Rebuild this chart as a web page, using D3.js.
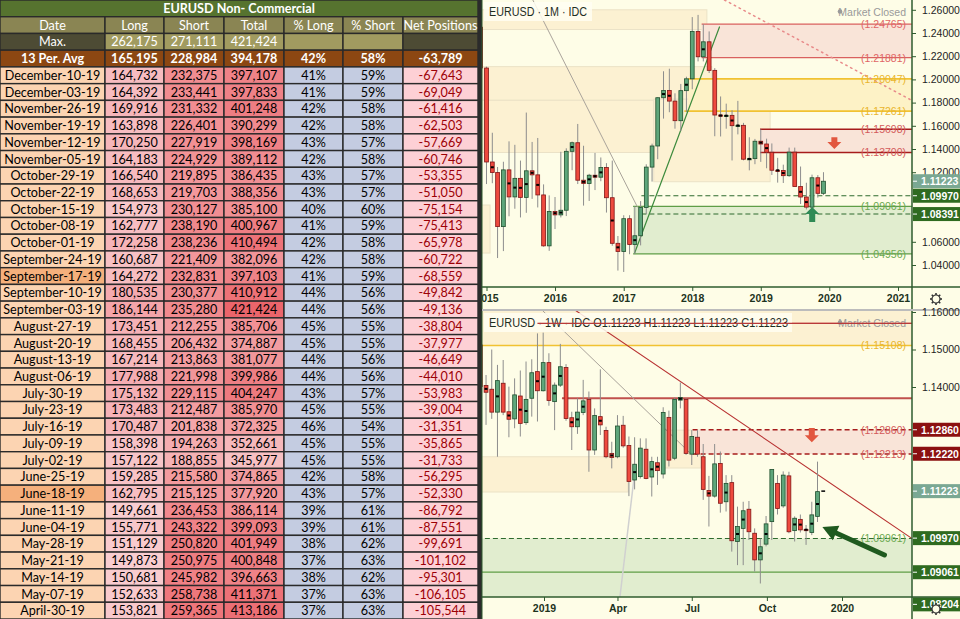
<!DOCTYPE html>
<html>
<head>
<meta charset="utf-8">
<script src="https://cdnjs.cloudflare.com/ajax/libs/d3/7.8.5/d3.min.js"></script>
<style>
body { margin: 0; background: #fff; }
svg { display: block; }
.tbl text { font-family: Lato, "Open Sans", sans-serif; font-size: 12.6px; }
.chart text { font-family: "Liberation Sans", Arial, sans-serif; }
</style>
</head>
<body>
<svg width="960" height="619"></svg>
<script>
// ---------------- table data ----------------
var tTitle = 'EURUSD Non- Commercial';
var tHeaders = ['Date', 'Long', 'Short', 'Total', '% Long', '% Short', 'Net Positions'];
var tMax = ['Max.', 262175, 271111, 421424];
var tAvg = ['13 Per. Avg', 165195, 228984, 394178, 42, 58, -63789];
var tDates = ['December-10-19', 'December-03-19', 'November-26-19', 'November-19-19', 'November-12-19',
  'November-05-19', 'October-29-19', 'October-22-19', 'October-15-19', 'October-08-19', 'October-01-19',
  'September-24-19', 'September-17-19', 'September-10-19', 'September-03-19', 'August-27-19',
  'August-20-19', 'August-13-19', 'August-06-19', 'July-30-19', 'July-23-19', 'July-16-19', 'July-09-19',
  'July-02-19', 'June-25-19', 'June-18-19', 'June-11-19', 'June-04-19', 'May-28-19', 'May-21-19',
  'May-14-19', 'May-07-19', 'April-30-19'];
var tLong = [164732, 164392, 169916, 163898, 170250, 164183, 166540, 168653, 154973, 162777, 172258,
  160687, 164272, 180535, 186144, 173451, 168455, 167214, 177988, 175132, 173483, 170487, 158398,
  157122, 159285, 162795, 149661, 155771, 151129, 149873, 150681, 152633, 153821];
var tShort = [232375, 233441, 231332, 226401, 227919, 224929, 219895, 219703, 230127, 238190, 238236,
  221409, 232831, 230377, 235280, 212255, 206432, 213863, 221998, 229115, 212487, 201838, 194263,
  188855, 215580, 215125, 236453, 243322, 250820, 250975, 245982, 258738, 259365];
var tTotal = [397107, 397833, 401248, 390299, 398169, 389112, 386435, 388356, 385100, 400967, 410494,
  382096, 397103, 410912, 421424, 385706, 374887, 381077, 399986, 404247, 385970, 372325, 352661,
  345977, 374865, 377920, 386114, 399093, 401949, 400848, 396663, 411371, 413186];
var tPctLong = [41, 41, 42, 42, 43, 42, 43, 43, 40, 41, 42, 42, 41, 44, 44, 45, 45, 44, 44, 43, 45, 46,
  45, 45, 42, 43, 39, 39, 38, 37, 38, 37, 37];
var tPctShort = [59, 59, 58, 58, 57, 58, 57, 57, 60, 59, 58, 58, 59, 56, 56, 55, 55, 56, 56, 57, 55, 54,
  55, 55, 58, 57, 61, 61, 62, 63, 62, 63, 63];
var tNet = [-67643, -69049, -61416, -62503, -57669, -60746, -53355, -51050, -75154, -75413, -65978,
  -60722, -68559, -49842, -49136, -38804, -37977, -46649, -44010, -53983, -39004, -31351, -35865,
  -31733, -56295, -52330, -86792, -87551, -99691, -101102, -95301, -106105, -105544];
var tMarked = ['September-17-19', 'June-18-19'];

// ---------------- monthly candles (Dec 2014 - Dec 2019) ----------------
var mOpen = [1.2450, 1.2098, 1.1288, 1.1197, 1.0731, 1.1220, 1.0987, 1.1147, 1.0983, 1.1212, 1.1177, 1.1004,
  1.0565, 1.0862, 1.0832, 1.0872, 1.1380, 1.1454, 1.1131, 1.1103, 1.1174, 1.1157, 1.1240, 1.0980,
  1.0587, 1.0517, 1.0799, 1.0576, 1.0652, 1.0895, 1.1244, 1.1426, 1.1842, 1.1905, 1.1813, 1.1644,
  1.1903, 1.2005, 1.2414, 1.2195, 1.2324, 1.2078, 1.1693, 1.1684, 1.1690, 1.1601, 1.1604, 1.1312,
  1.1317, 1.1467, 1.1443, 1.1372, 1.1217, 1.1215, 1.1170, 1.1373, 1.1076, 1.0986, 1.0899, 1.1152, 1.1018];
var mHigh = [1.2570, 1.2110, 1.1540, 1.1245, 1.1290, 1.1466, 1.1436, 1.1300, 1.1714, 1.1461, 1.1495, 1.1095,
  1.1000, 1.0986, 1.1376, 1.1406, 1.1464, 1.1616, 1.1428, 1.1186, 1.1366, 1.1327, 1.1278, 1.1300,
  1.0650, 1.0829, 1.0829, 1.0906, 1.0951, 1.1268, 1.1446, 1.1846, 1.2070, 1.2092, 1.1880, 1.1961,
  1.2023, 1.2537, 1.2556, 1.2476, 1.2414, 1.2097, 1.1853, 1.1791, 1.1734, 1.1815, 1.1625, 1.1501,
  1.1487, 1.1570, 1.1489, 1.1448, 1.1324, 1.1265, 1.1412, 1.1412, 1.1249, 1.1109, 1.1179, 1.1175, 1.1200];
var mLow = [1.2165, 1.1098, 1.1105, 1.0460, 1.0520, 1.0820, 1.0885, 1.0810, 1.0850, 1.0970, 1.0896, 1.0558,
  1.0522, 1.0710, 1.0810, 1.0822, 1.1217, 1.1098, 1.0912, 1.0952, 1.1046, 1.1122, 1.0852, 1.0566,
  1.0352, 1.0340, 1.0493, 1.0494, 1.0569, 1.0839, 1.1119, 1.1312, 1.1662, 1.1717, 1.1575, 1.1554,
  1.1718, 1.1915, 1.2155, 1.2155, 1.2055, 1.1510, 1.1508, 1.1575, 1.1301, 1.1526, 1.1302, 1.1216,
  1.1269, 1.1289, 1.1234, 1.1176, 1.1110, 1.1107, 1.1160, 1.1101, 1.0926, 1.0879, 1.0879, 1.0981, 1.1003];
var mClose = [1.2098, 1.1288, 1.1197, 1.0731, 1.1220, 1.0987, 1.1147, 1.0983, 1.1212, 1.1177, 1.1004, 1.0565,
  1.0862, 1.0832, 1.0872, 1.1380, 1.1454, 1.1131, 1.1103, 1.1174, 1.1157, 1.1240, 1.0980, 1.0587,
  1.0517, 1.0799, 1.0576, 1.0652, 1.0895, 1.1244, 1.1426, 1.1842, 1.1905, 1.1813, 1.1644, 1.1903,
  1.2005, 1.2414, 1.2195, 1.2324, 1.2078, 1.1693, 1.1684, 1.1690, 1.1601, 1.1604, 1.1312, 1.1317,
  1.1467, 1.1443, 1.1372, 1.1217, 1.1215, 1.1170, 1.1373, 1.1076, 1.0986, 1.0899, 1.1152, 1.1018, 1.1122];
var mDot = [0, 0, 1, 0, 0, 1, 1, 1, 1, 1, 1, 0, 0, 1, 1, 0, 1, 0, 1, 1, 1, 1, 0, 1, 1, 0, 0, 1, 0, 0, 0, 0,
  1, 1, 0, 0, 1, 0, 0, 1, 0, 0, 1, 1, 1, 1, 0, 1, 0, 1, 1, 0, 1, 1, 0, 0, 1, 1, 0, 1, 0];

// ---------------- weekly candles (from week of 2018-10-15) ----------------
var wOpen = [1.1512, 1.1404, 1.1394, 1.1333, 1.1410, 1.1334, 1.1315, 1.1376, 1.1305, 1.1370, 1.1441,
  1.1390, 1.1465, 1.1361, 1.1405, 1.1452, 1.1318, 1.1294, 1.1332, 1.1367, 1.1232, 1.1321, 1.1284,
  1.1223, 1.1214, 1.1298, 1.1244, 1.1152, 1.1161, 1.1234, 1.1160, 1.1198, 1.1168, 1.1319, 1.1210,
  1.1365, 1.1367, 1.1221, 1.1266, 1.1214, 1.1124, 1.1109, 1.1196, 1.1094, 1.1145, 1.0988, 1.1023,
  1.1074, 1.1010, 1.0939, 1.0981, 1.1041, 1.1143, 1.1083, 1.1163, 1.1017, 1.1047, 1.1020, 1.1012,
  1.1055, 1.11223];
var wHigh = [1.1546, 1.1432, 1.1500, 1.1459, 1.1472, 1.1401, 1.1423, 1.1444, 1.1468, 1.1474, 1.1543,
  1.1545, 1.1490, 1.1412, 1.1515, 1.1461, 1.1334, 1.1370, 1.1419, 1.1388, 1.1343, 1.1447, 1.1294,
  1.1254, 1.1325, 1.1323, 1.1268, 1.1266, 1.1263, 1.1263, 1.1214, 1.1214, 1.1346, 1.1337, 1.1372,
  1.1412, 1.1370, 1.1285, 1.1285, 1.1248, 1.1163, 1.1248, 1.1228, 1.1165, 1.1165, 1.1081, 1.1094,
  1.1096, 1.1023, 1.0996, 1.1056, 1.1180, 1.1165, 1.1175, 1.1174, 1.1055, 1.1060, 1.1032, 1.1094,
  1.1201, 1.11223];
var wLow = [1.1380, 1.1299, 1.1315, 1.1214, 1.1325, 1.1266, 1.1290, 1.1268, 1.1299, 1.1321, 1.1308,
  1.1388, 1.1350, 1.1285, 1.1400, 1.1310, 1.1232, 1.1275, 1.1325, 1.1174, 1.1219, 1.1272, 1.1210,
  1.1183, 1.1210, 1.1238, 1.1109, 1.1127, 1.1156, 1.1154, 1.1108, 1.1139, 1.1156, 1.1188, 1.1205,
  1.1343, 1.1219, 1.1192, 1.1214, 1.1099, 1.1028, 1.1105, 1.1065, 1.1068, 1.0961, 1.0925, 1.0925,
  1.0992, 1.0908, 1.0876, 1.0975, 1.0992, 1.1060, 1.1078, 1.1010, 1.0988, 1.1012, 1.0979, 1.1005,
  1.1040, 1.11223];
var wClose = [1.1401, 1.1386, 1.1333, 1.1417, 1.1333, 1.1314, 1.1379, 1.1303, 1.1367, 1.1438, 1.1390,
  1.1465, 1.1364, 1.1405, 1.1454, 1.1316, 1.1294, 1.1333, 1.1363, 1.1232, 1.1324, 1.1299, 1.1214,
  1.1212, 1.1296, 1.1243, 1.1148, 1.1194, 1.1237, 1.1156, 1.1201, 1.1177, 1.1332, 1.1205, 1.1367,
  1.1372, 1.1223, 1.1268, 1.1221, 1.1127, 1.1109, 1.1195, 1.1090, 1.1143, 1.0990, 1.1028, 1.1070,
  1.1014, 1.0939, 1.0974, 1.1035, 1.1180, 1.1076, 1.1165, 1.1014, 1.1050, 1.1019, 1.1019, 1.1059,
  1.1121, 1.11223];
var wDot = [0, 1, 0, 1, 0, 1, 0, 1, 1, 0, 1, 1, 0, 1, 1, 0, 1, 1, 1, 0, 0, 1, 0, 1, 0, 0, 0, 1, 0, 0,
  1, 1, 0, 0, 0, 1, 0, 0, 0, 0, 1, 0, 0, 1, 0, 1, 1, 0, 0, 1, 1, 0, 0, 0, 0, 1, 1, 1, 1, 1, 0];

// ---------------- drawings on the charts ----------------
// [price, start date, kind, labelled]
var mLines = [[1.24765, '2018-02-20', 'red', 1], [1.21881, '2018-02-20', 'red', 1],
  [1.20047, '2017-12-10', 'gold', 1], [1.17261, '2017-11-20', 'gold', 1],
  [1.15698, '2018-12-28', 'dred', 1], [1.13700, '2018-12-28', 'dred', 1],
  [1.09970, '2017-04-05', 'gdash', 0], [1.08391, '2017-04-05', 'gdash', 0],
  [1.09061, '2017-02-20', 'green', 1], [1.04956, '2017-02-20', 'green', 1]];
// [start, end, top price, bottom price, kind]
var mBands = [['2014-11-01', '2018-03-20', 1.2600, 1.2430, 'beige'],
  ['2014-11-01', '2018-04-15', 1.2110, 1.1820, 'beige'],
  ['2014-11-01', '2017-06-10', 1.1820, 1.1370, 'beige'],
  ['2017-06-10', '2019-02-20', 1.1830, 1.1118, 'beige'],
  ['2014-11-01', '2015-01-20', 1.0917, 1.0503, 'beige'],
  ['2018-02-20', '2021-06-01', 1.24765, 1.21881, 'pink'],
  ['2017-12-10', '2021-06-01', 1.20047, 1.17261, 'yellow'],
  ['2018-12-28', '2021-06-01', 1.15698, 1.13700, 'pink'],
  ['2017-02-20', '2021-06-01', 1.09061, 1.04956, 'green']];
// [date1, price1, date2, price2, kind]
var mTrend = [['2015-09-05', 1.2684, '2017-03-15', 1.0900, 'gray'],
  ['2017-02-28', 1.0503, '2018-05-26', 1.2452, 'green'],
  ['2018-06-22', 1.2684, '2021-03-12', 1.1822, 'pinkdot']];
// [date, base price, tip price, kind]
var mArrows = [['2020-01-28', 1.1502, 1.1401, 'red'], ['2019-10-02', 1.0771, 1.0900, 'green']];
var mTags = [[1.11223, 'last'], [1.09970, 'green'], [1.08391, 'green']];
var mYears = ['2015', '2016', '2017', '2018', '2019', '2020', '2021'];

var wLines = [[1.15698, '2018-12-24', 'red', 0], [1.15108, '2018-10-01', 'gold', 1],
  [1.13700, '2019-01-23', 'dred2', 0], [1.12860, '2019-07-02', 'rdash', 1],
  [1.12213, '2019-07-02', 'rdash', 1], [1.09961, '2018-10-01', 'gdash', 1],
  [1.09061, '2018-10-01', 'green', 0], [1.08204, '2018-10-01', 'green', 1]];
var wBands = [['2018-10-01', '2020-06-01', 1.1700, 1.15108, 'beige'],
  ['2018-10-01', '2019-04-14', 1.1214, 1.1120, 'beige'],
  ['2019-05-25', '2019-07-12', 1.1285, 1.1184, 'beige'],
  ['2019-07-02', '2020-06-01', 1.12860, 1.12213, 'pink'],
  ['2018-10-01', '2020-06-01', 1.09961, 1.0700, 'green']];
var wTrend = [['2018-12-23', 1.1619, '2019-06-28', 1.1226, 'gray'],
  ['2019-02-04', 1.1611, '2020-03-26', 1.0997, 'red'],
  ['2019-04-04', 1.0840, '2019-04-22', 1.1171, 'lgray']];
var wArrows = [['2019-11-25', 1.1291, 1.1253, 'red']];
var wBigArrow = ['2020-02-22', 1.0952, '2019-12-08', 1.1027];
var wTags = [[1.12860, 'red'], [1.12220, 'red'], [1.11223, 'last'], [1.09970, 'green'],
  [1.09061, 'green'], [1.08204, 'green']];
var wTicks = [['2019-01-01', '2019'], ['2019-04-01', 'Apr'], ['2019-07-01', 'Jul'],
  ['2019-10-01', 'Oct'], ['2020-01-01', '2020']];

// ---------------- styles ----------------
var lineStyle = {
  red: { c: '#d9605f', w: 1.2 }, gold: { c: '#f1c232', w: 1.6 }, dred: { c: '#a61c1c', w: 1.4 },
  dred2: { c: '#c0504d', w: 2 }, green: { c: '#5f9e47', w: 1.3 },
  gdash: { c: '#2f6b2f', w: 1.1, d: '5,3' }, rdash: { c: '#a61c1c', w: 1.3, d: '5,3' }
};
var labelColor = { red: '#e06666', gold: '#e9b52c', dred: '#d35a5a', green: '#6aa84f',
  gdash: '#6aa84f', rdash: '#d35a5a' };
var bandFill = { beige: '#fcf1d2', pink: '#f9e4d8', yellow: '#fdf2c6', green: '#e1edcf' };
var trendStyle = { gray: ['#a9a39a', 1, null], green: ['#3d8b3d', 1.2, null],
  pinkdot: ['#e88a8a', 1.5, '1.5,4'], red: ['#b83232', 1.1, null], lgray: ['#d0d0d0', 1.5, null] };
var tagFill = { last: '#7aa893', green: '#2f6b20', red: '#8b1010' };

var svg = d3.select('svg');
var D = d3.timeParse('%Y-%m-%d');
var loc = d3.formatLocale({ decimal: '.', thousands: ',', grouping: [3], currency: ['', ''], minus: '-' });
var fmtN = loc.format(',');
var fmtP = d3.format('.5f');

// ================= TABLE =================
var tbl = svg.append('g').attr('class', 'tbl');
var colX = [0, 105, 164, 224, 284, 343, 403, 478];
var rh = 619 / 37;

var longCol = d3.scaleLinear().domain(d3.extent(tLong)).range(['#f9cdd0', '#f4a4a9']);
var shortCol = d3.scaleLinear().domain(d3.extent(tShort)).range(['#f6b1b4', '#ee767b']);
var totalCol = d3.scaleLinear().domain(d3.extent(tTotal)).range(['#f7c0c3', '#eb656b']);

function cell(c0, c1, row, fill, txt, color, bold) {
  var y0 = row * rh;
  tbl.append('rect').attr('x', colX[c0]).attr('y', y0)
    .attr('width', colX[c1] - colX[c0]).attr('height', rh)
    .attr('fill', fill).attr('stroke', '#2a2a2a').attr('stroke-width', 1.4);
  if (txt !== '') {
    tbl.append('text').attr('x', (colX[c0] + colX[c1]) / 2).attr('y', y0 + rh / 2 + 4.6)
      .attr('text-anchor', 'middle').attr('fill', color)
      .attr('font-weight', bold ? 'bold' : 'normal').text(txt);
  }
}

cell(0, 7, 0, '#56732f', tTitle, '#fff', true);
tHeaders.forEach(function (h, i) { cell(i, i + 1, 1, '#8a8553', h, '#fff', false); });
cell(0, 1, 2, '#4d4b34', tMax[0], '#fff', false);
cell(1, 2, 2, '#a19b60', fmtN(tMax[1]), '#fff', false);
cell(2, 3, 2, '#a19b60', fmtN(tMax[2]), '#fff', false);
cell(3, 4, 2, '#a19b60', fmtN(tMax[3]), '#fff', false);
cell(4, 5, 2, '#a19b60', '', '#fff', false);
cell(5, 6, 2, '#a19b60', '', '#fff', false);
cell(6, 7, 2, '#4d4b34', '', '#fff', false);
cell(0, 1, 3, '#8c4712', tAvg[0], '#fff', true);
cell(1, 2, 3, '#8c4712', fmtN(tAvg[1]), '#fff', true);
cell(2, 3, 3, '#8c4712', fmtN(tAvg[2]), '#fff', true);
cell(3, 4, 3, '#8c4712', fmtN(tAvg[3]), '#fff', true);
cell(4, 5, 3, '#8c4712', tAvg[4] + '%', '#fff', true);
cell(5, 6, 3, '#8c4712', tAvg[5] + '%', '#fff', true);
cell(6, 7, 3, '#8c4712', fmtN(tAvg[6]), '#fff', true);

tDates.forEach(function (d, i) {
  var r = i + 4;
  cell(0, 1, r, tMarked.indexOf(d) >= 0 ? '#f5b07c' : '#fcd4b2', d, '#000', false);
  cell(1, 2, r, longCol(tLong[i]), fmtN(tLong[i]), '#000', false);
  cell(2, 3, r, shortCol(tShort[i]), fmtN(tShort[i]), '#000', false);
  cell(3, 4, r, totalCol(tTotal[i]), fmtN(tTotal[i]), '#000', false);
  cell(4, 5, r, '#c4cce1', tPctLong[i] + '%', '#000', false);
  cell(5, 6, r, '#c4cce1', tPctShort[i] + '%', '#000', false);
  cell(6, 7, r, '#fdd0d5', fmtN(tNet[i]), '#9c0006', false);
});

svg.append('rect').attr('x', 478).attr('y', 0).attr('width', 4).attr('height', 619).attr('fill', '#2b2b2b');

// ================= CHARTS =================
var bg = '#fefde7';

function panel(cfg) {
  var g = svg.append('g').attr('class', 'chart');
  var px0 = 482, px1 = 912, py0 = cfg.top, py1 = cfg.axisY;
  g.append('rect').attr('x', px0).attr('y', py0).attr('width', 960 - px0).attr('height', cfg.bottom - py0)
    .attr('fill', bg);
  var clipId = 'clip' + cfg.id;
  g.append('clipPath').attr('id', clipId).append('rect')
    .attr('x', px0).attr('y', py0).attr('width', px1 - px0).attr('height', py1 - py0);
  var p = g.append('g').attr('clip-path', 'url(#' + clipId + ')');
  var x = cfg.x, y = cfg.y;

  // bands
  p.selectAll('rect.band').data(cfg.bands).enter().append('rect')
    .attr('x', function (b) { return x(D(b[0])); })
    .attr('width', function (b) { return x(D(b[1])) - x(D(b[0])); })
    .attr('y', function (b) { return y(b[2]); })
    .attr('height', function (b) { return y(b[3]) - y(b[2]); })
    .attr('fill', function (b) { return bandFill[b[4]]; })
    .attr('stroke', function (b) { return b[4] === 'beige' ? '#ebe2c6' : 'none'; })
    .attr('stroke-width', 1);

  // horizontal levels
  p.selectAll('line.lvl').data(cfg.lines).enter().append('line')
    .attr('x1', function (l) { return x(D(l[1])); }).attr('x2', px1)
    .attr('y1', function (l) { return y(l[0]); }).attr('y2', function (l) { return y(l[0]); })
    .attr('stroke', function (l) { return lineStyle[l[2]].c; })
    .attr('stroke-width', function (l) { return lineStyle[l[2]].w; })
    .attr('stroke-dasharray', function (l) { return lineStyle[l[2]].d || null; });

  // trend lines
  p.selectAll('line.tr').data(cfg.trend).enter().append('line')
    .attr('x1', function (t) { return x(D(t[0])); }).attr('y1', function (t) { return y(t[1]); })
    .attr('x2', function (t) { return x(D(t[2])); }).attr('y2', function (t) { return y(t[3]); })
    .attr('stroke', function (t) { return trendStyle[t[4]][0]; })
    .attr('stroke-width', function (t) { return trendStyle[t[4]][1]; })
    .attr('stroke-dasharray', function (t) { return trendStyle[t[4]][2]; })
    .attr('stroke-linecap', 'round');

  // candles
  var data = cfg.dates.map(function (d, i) {
    return { d: d, o: cfg.o[i], h: cfg.h[i], l: cfg.l[i], c: cfg.c[i], dot: cfg.dot[i] };
  });
  var bw = 3.8;
  p.selectAll('line.wick').data(data).enter().append('line')
    .attr('x1', function (d) { return x(d.d); }).attr('x2', function (d) { return x(d.d); })
    .attr('y1', function (d) { return y(d.h); }).attr('y2', function (d) { return y(d.l); })
    .attr('stroke', '#8d8d8d').attr('stroke-width', 1);
  p.selectAll('rect.body').data(data.filter(function (d) { return d.o !== d.c; })).enter().append('rect')
    .attr('x', function (d) { return x(d.d) - bw / 2; }).attr('width', bw)
    .attr('y', function (d) { return y(Math.max(d.o, d.c)); })
    .attr('height', function (d) { return Math.max(1.2, Math.abs(y(d.o) - y(d.c))); })
    .attr('fill', function (d) { return d.c > d.o ? '#5ea67b' : '#ee4a3e'; })
    .attr('stroke', function (d) { return d.c > d.o ? '#1f4f2d' : '#801515'; })
    .attr('stroke-width', 0.8);
  p.selectAll('rect.doji').data(data.filter(function (d) { return d.o === d.c; })).enter().append('rect')
    .attr('x', function (d) { return x(d.d) - bw / 2; }).attr('width', bw)
    .attr('y', function (d) { return y(d.c) - 0.8; }).attr('height', 1.6).attr('fill', '#111');
  p.selectAll('rect.dot').data(data.filter(function (d) { return d.dot; })).enter().append('rect')
    .attr('x', function (d) { return x(d.d) - 1.5; }).attr('width', 3)
    .attr('y', function (d) { return y((d.o + d.c) / 2) - 1; }).attr('height', 2).attr('fill', '#000');

  // block arrows
  cfg.arrows.forEach(function (a) {
    var cx = x(D(a[0])), yb = y(a[1]), yt = y(a[2]);
    var s = yt > yb ? 1 : -1, hl = 7;
    var path = 'M' + (cx - 3) + ',' + yb + 'L' + (cx + 3) + ',' + yb + 'L' + (cx + 3) + ',' + (yt - s * hl) +
      'L' + (cx + 7) + ',' + (yt - s * hl) + 'L' + cx + ',' + yt + 'L' + (cx - 7) + ',' + (yt - s * hl) +
      'L' + (cx - 3) + ',' + (yt - s * hl) + 'Z';
    p.append('path').attr('d', path).attr('fill', a[3] === 'red' ? '#e2573f' : '#2f8a55');
  });

  // level labels
  p.selectAll('text.lbl').data(cfg.lines.filter(function (l) { return l[3]; })).enter().append('text')
    .attr('x', 906).attr('y', function (l) { return y(l[0]) + 4; })
    .attr('text-anchor', 'end').attr('font-size', 10.5)
    .attr('fill', function (l) { return labelColor[l[2]]; })
    .text(function (l) { return '(' + fmtP(l[0]) + ')'; });

  if (cfg.extra) cfg.extra(p, x, y);

  // title
  var tb = g.append('g');
  tb.append('rect').attr('x', 484).attr('y', py0 + 2).attr('width', cfg.titleW).attr('height', 19)
    .attr('fill', '#fffef2').attr('opacity', 0.85);
  tb.append('text').attr('x', 489).attr('y', py0 + 16).attr('font-size', 12.5).attr('fill', '#1f2e1f')
    .attr('textLength', cfg.titleLen).attr('lengthAdjust', 'spacingAndGlyphs').text(cfg.title);
  g.append('circle').attr('cx', 840).attr('cy', py0 + 11.5).attr('r', 2.3).attr('fill', '#9a9a9a');
  g.append('text').attr('x', 906).attr('y', py0 + 15.5).attr('text-anchor', 'end').attr('font-size', 10.5)
    .attr('fill', '#9a9a9a').text('Market Closed');
  if (cfg.overTitle) cfg.overTitle(g, x, y);

  // price axis; ticks lying under a tag are left out
  var tagYs = cfg.tags.map(function (t) { return y(t[0]); });
  var yTicks = cfg.yTicks.filter(function (v) {
    return tagYs.every(function (ty) { return Math.abs(y(v) - ty) > 8.5; });
  });
  var ya = g.append('g').attr('transform', 'translate(' + px1 + ',0)')
    .call(d3.axisRight(y).tickValues(yTicks).tickFormat(fmtP).tickSize(4).tickPadding(6));
  ya.select('.domain').remove();
  ya.selectAll('line').attr('stroke', '#2f5a2f');
  ya.selectAll('text').attr('font-size', 10.5).attr('fill', '#1e1e1e').attr('font-family', '"Liberation Sans", Arial, sans-serif');

  cfg.tags.forEach(function (t) {
    var ty = y(t[0]);
    g.append('rect').attr('x', px1 + 1).attr('y', ty - 7).attr('width', 47).attr('height', 14)
      .attr('fill', tagFill[t[1]]);
    g.append('line').attr('x1', px1).attr('x2', px1 + 5).attr('y1', ty).attr('y2', ty).attr('stroke', '#fff');
    g.append('text').attr('x', px1 + 9).attr('y', ty + 4).attr('font-size', 10.5).attr('font-weight', 'bold')
      .attr('fill', '#fff').text(fmtP(t[0]));
  });

  // time axis (clip rect is in the axis group's own, translated, coordinates)
  var clipX = 'clipx' + cfg.id;
  g.append('clipPath').attr('id', clipX).append('rect')
    .attr('x', px0).attr('y', 0).attr('width', px1 - px0).attr('height', cfg.bottom - py1);
  var xa = g.append('g').attr('transform', 'translate(0,' + py1 + ')').attr('clip-path', 'url(#' + clipX + ')')
    .call(d3.axisBottom(x).tickValues(cfg.xTicks.map(function (t) { return t[0]; }))
      .tickFormat(function (d, i) { return cfg.xTicks[i][1]; }).tickSize(4).tickPadding(4));
  xa.select('.domain').remove();
  xa.selectAll('line').attr('stroke', '#2f5a2f');
  xa.selectAll('text').attr('font-size', 10.5).attr('font-weight', 'bold').attr('fill', '#1d331d')
    .attr('font-family', '"Liberation Sans", Arial, sans-serif');

  g.append('line').attr('x1', px0).attr('x2', 960).attr('y1', py1).attr('y2', py1)
    .attr('stroke', '#2e5b2e').attr('stroke-width', 1.5);
  g.append('line').attr('x1', px1).attr('x2', px1).attr('y1', py0).attr('y2', cfg.bottom)
    .attr('stroke', '#2e5b2e').attr('stroke-width', 1.5);
  g.append('line').attr('x1', px0).attr('x2', px0).attr('y1', py0).attr('y2', cfg.bottom)
    .attr('stroke', '#2e5b2e').attr('stroke-width', 1);

  // settings gear
  var gx = 936, gy = (py1 + cfg.bottom) / 2 + 1;
  var gear = g.append('g').attr('transform', 'translate(' + gx + ',' + gy + ')');
  d3.range(8).forEach(function (k) {
    var a = k * Math.PI / 4;
    gear.append('line').attr('x1', Math.cos(a) * 3.5).attr('y1', Math.sin(a) * 3.5)
      .attr('x2', Math.cos(a) * 6).attr('y2', Math.sin(a) * 6).attr('stroke', '#333').attr('stroke-width', 1.6);
  });
  gear.append('circle').attr('r', 4).attr('fill', bg).attr('stroke', '#333').attr('stroke-width', 1.2);
}

var xM = d3.scaleTime().domain([D('2015-01-01'), D('2021-01-01')]).range([486.5, 898]);
var yM = d3.scaleLinear().domain([1.04, 1.26]).range([265, 9.8]);
var mDates = d3.timeMonth.range(D('2014-12-01'), D('2020-01-01'));

panel({
  id: 'm', top: 0, axisY: 287, bottom: 309, x: xM, y: yM,
  dates: mDates, o: mOpen, h: mHigh, l: mLow, c: mClose, dot: mDot,
  bands: mBands, lines: mLines, trend: mTrend, arrows: mArrows, tags: mTags,
  yTicks: d3.range(1.04, 1.2601, 0.02), titleW: 108,
  xTicks: mYears.map(function (yr) { return [D(yr + '-01-01'), yr]; }),
  title: 'EURUSD \u00b7 1M \u00b7 IDC', titleLen: 98
});

svg.append('rect').attr('x', 482).attr('y', 309).attr('width', 478).attr('height', 2).attr('fill', '#bcbcbc');

var xW = d3.scaleTime().domain([D('2019-01-01'), D('2020-01-01')]).range([544, 842]);
var yW = d3.scaleLinear().domain([1.08, 1.16]).range([612, 312]);
var wDates = d3.timeMonday.range(D('2018-10-15'), D('2019-12-10'));

panel({
  id: 'w', top: 311, axisY: 597, bottom: 619, x: xW, y: yW,
  dates: wDates, o: wOpen, h: wHigh, l: wLow, c: wClose, dot: wDot,
  bands: wBands, lines: wLines, trend: wTrend, arrows: wArrows, tags: wTags,
  yTicks: d3.range(1.08, 1.1601, 0.01), titleW: 308,
  xTicks: wTicks.map(function (t) { return [D(t[0]), t[1]]; }),
  title: 'EURUSD \u00b7 1W \u00b7 IDC  O1.11223  H1.11223  L1.11223  C1.11223', titleLen: 299,
  extra: function (p, x, y) {
    var x1 = x(D(wBigArrow[0])), y1 = y(wBigArrow[1]), x2 = x(D(wBigArrow[2])), y2 = y(wBigArrow[3]);
    var ang = Math.atan2(y2 - y1, x2 - x1), hl = 15, hw = 8;
    var bx = x2 - Math.cos(ang) * hl, by = y2 - Math.sin(ang) * hl;
    p.append('line').attr('x1', x1).attr('y1', y1).attr('x2', bx).attr('y2', by)
      .attr('stroke', '#1f5a1f').attr('stroke-width', 5).attr('stroke-linecap', 'round');
    p.append('path').attr('d', 'M' + x2 + ',' + y2 +
      'L' + (bx + Math.sin(ang) * hw) + ',' + (by - Math.cos(ang) * hw) +
      'L' + (bx - Math.sin(ang) * hw) + ',' + (by + Math.cos(ang) * hw) + 'Z').attr('fill', '#1f5a1f');
  },
  overTitle: function (g, x, y) {
    g.append('line').attr('x1', x(D('2018-12-24'))).attr('x2', 912).attr('y1', y(1.15698)).attr('y2', y(1.15698))
      .attr('stroke', '#b83a3a').attr('stroke-width', 1.2);
  }
});
</script>
</body>
</html>
